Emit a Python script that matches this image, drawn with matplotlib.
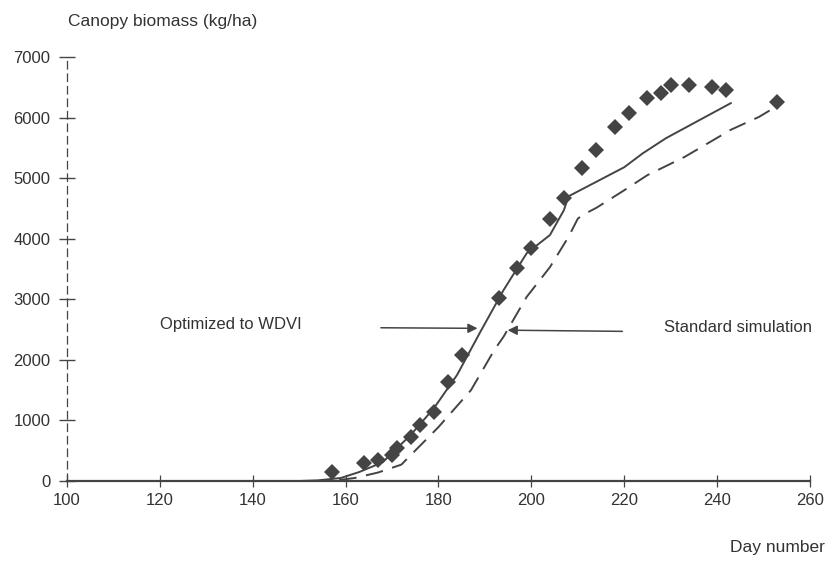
import matplotlib
matplotlib.use("Agg")
import matplotlib.pyplot as plt

# Observed canopy biomass (diamonds)
obs_day = [157, 164, 167, 170, 171, 174, 176, 179, 182, 185, 193, 197, 200, 204, 207,
           211, 214, 218, 221, 225, 228, 230, 234, 239, 242, 253]
obs_val = [150, 300, 350, 430, 545, 725, 925, 1140, 1640, 2080, 3020, 3510, 3850, 4330, 4670,
           5170, 5470, 5850, 6080, 6320, 6410, 6530, 6530, 6500, 6460, 6260]

# Simulation optimized to WDVI (solid)
opt_day = [100, 150, 154, 159, 163, 168, 174, 179, 184, 189, 194, 199, 204, 207, 208,
           214, 220, 224, 229, 243]
opt_val = [0, 0, 10, 50, 150, 310, 760, 1200, 1750, 2460, 3150, 3760, 4060, 4470, 4700,
           4940, 5180, 5410, 5660, 6240]

# Standard simulation (dashed)
std_day = [100, 155, 159, 162, 167, 172, 180, 187, 192, 194, 199, 204, 208, 210, 211,
           214, 220, 225, 233, 243, 249, 254]
std_val = [0, 0, 20, 50, 140, 270, 890, 1500, 2160, 2380, 3040, 3530, 4030, 4330, 4390,
           4510, 4800, 5050, 5350, 5800, 6010, 6240]

xticks = [100, 120, 140, 160, 180, 200, 220, 240, 260]
yticks = [0, 1000, 2000, 3000, 4000, 5000, 6000, 7000]

col = "#444444"
tcol = "#333333"
plt.rcParams['font.family'] = ['Liberation Sans', 'DejaVu Sans']

fig = plt.figure(figsize=(8.31, 5.66), dpi=100)
ax = fig.add_axes([0.0806, 0.1502, 0.8941, 0.7491])
ax.set_xlim(100, 260)
ax.set_ylim(0, 7000)

ax.plot(opt_day, opt_val, color=col, lw=1.4, solid_capstyle='round')
ax.plot(std_day, std_val, color=col, lw=1.4, dashes=(9, 5))
ax.plot(obs_day, obs_val, linestyle='none', marker='D', markersize=8.5,
        color=col, markeredgewidth=0)

for s in ['top', 'right']:
    ax.spines[s].set_visible(False)
ax.spines['left'].set_linestyle((0, (6, 4)))
ax.spines['left'].set_color(col)
ax.spines['left'].set_linewidth(0.9)
ax.spines['bottom'].set_color(col)
ax.spines['bottom'].set_linewidth(1.6)
ax.spines['left'].set_zorder(0)

ax.set_xticks(xticks)
ax.set_xticklabels([str(t) for t in xticks])
ax.set_yticks(yticks)
ax.set_yticklabels([str(t) for t in yticks])
ax.tick_params(axis='x', direction='inout', length=8, width=0.9, colors=col,
               labelsize=12, pad=5, labelcolor=tcol)
ax.tick_params(axis='y', direction='inout', length=12, width=1.0, colors=col,
               labelsize=12, pad=6, labelcolor=tcol)

fig.text(0.082, 0.962, "Canopy biomass (kg/ha)", fontsize=12.5, color=tcol,
         ha='left', va='center')
fig.text(0.993, 0.032, "Day number", fontsize=12.5, color=tcol,
         ha='right', va='center')

ax.text(135.3, 2590, "Optimized to WDVI", fontsize=12, color=tcol, ha='center', va='center')
ax.text(244.5, 2530, "Standard simulation", fontsize=12, color=tcol, ha='center', va='center')
ax.annotate("", xy=(189.0, 2520), xytext=(167, 2530),
            arrowprops=dict(arrowstyle='-|>', color=col, lw=1.1, mutation_scale=14))
ax.annotate("", xy=(194.3, 2490), xytext=(220.2, 2470),
            arrowprops=dict(arrowstyle='-|>', color=col, lw=1.1, mutation_scale=14))

fig.savefig("out.png", dpi=100)
